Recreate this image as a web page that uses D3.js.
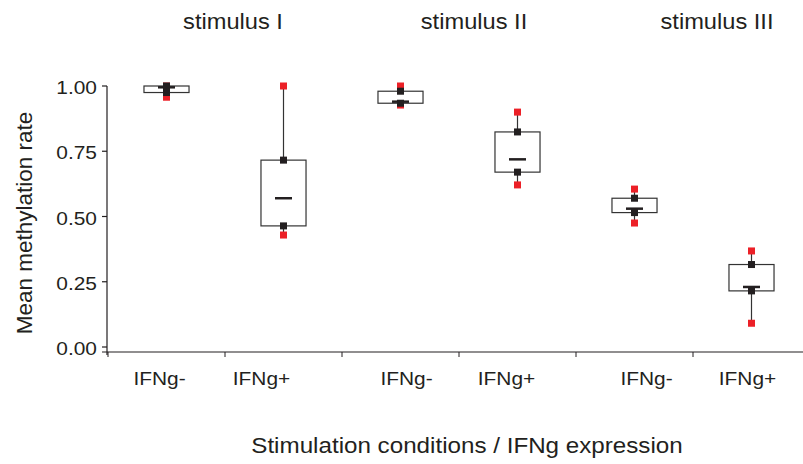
<!DOCTYPE html>
<html>
<head>
<meta charset="utf-8">
<script src="https://cdn.jsdelivr.net/npm/d3@7"></script>
<style>
  html, body { margin: 0; padding: 0; background: #fff; }
  svg text { font-family: "Liberation Sans", Arial, Helvetica, sans-serif; fill: #231f20; }
</style>
</head>
<body>
<svg id="chart" width="803" height="464"></svg>
<script>
// Conditions (stimulus × IFNg expression)
const stimuli    = ["stimulus I", "stimulus II", "stimulus III"];
const categories = ["IFNg-", "IFNg+", "IFNg-", "IFNg+", "IFNg-", "IFNg+"];
const groupOf    = [0, 0, 1, 1, 2, 2];

// Five-number summaries of methylation rate per condition
const minVals    = [0.957, 0.429, 0.927, 0.621, 0.475, 0.091];
const q1Vals     = [0.975, 0.464, 0.934, 0.670, 0.515, 0.215];
const medianVals = [0.995, 0.570, 0.940, 0.719, 0.530, 0.230];
const q3Vals     = [1.000, 0.716, 0.980, 0.824, 0.570, 0.316];
const maxVals    = [1.000, 1.000, 1.000, 0.900, 0.605, 0.368];

const yTicks = [0, 0.25, 0.5, 0.75, 1.0];

const svg = d3.select("#chart");
const ink = "#231f20";
const red = "#ec2027";
const stretch = 1.1;   // horizontal widening of the lettering

// Scales
const x = d3.scaleBand().domain(d3.range(categories.length)).range([108, 810]).padding(0);
const y = d3.scaleLinear().domain([0, 1]).range([347, 86]);

const axisY = 352;      // baseline of the category axis
const boxW = x.bandwidth() * 0.385;
const sq = 7;           // marker square size

// Horizontal text helper with widened glyphs
function label(parent, px, py, str, size, anchor = "middle") {
  return parent.append("text")
    .attr("transform", `translate(${px},${py}) scale(${stretch},1)`)
    .attr("text-anchor", anchor)
    .attr("font-size", size)
    .text(str);
}

// Y axis
const gy = svg.append("g").attr("transform", "translate(107,0)");
gy.append("line").attr("x1", 0).attr("x2", 0).attr("y1", y(1)).attr("y2", axisY + 3)
  .attr("stroke", ink).attr("stroke-width", 1.2);
yTicks.forEach(t => {
  gy.append("line").attr("x1", -5).attr("x2", 0).attr("y1", y(t)).attr("y2", y(t))
    .attr("stroke", ink).attr("stroke-width", 1.2);
  label(gy, -10, y(t) + 8, d3.format(".2f")(t), 19, "end");
});

// X axis: baseline with boundary ticks between conditions
const gx = svg.append("g");
gx.append("line").attr("x1", 102).attr("x2", 803).attr("y1", axisY).attr("y2", axisY)
  .attr("stroke", ink).attr("stroke-width", 1.2);
gx.selectAll("line.tk").data(d3.range(categories.length)).join("line")
  .attr("class", "tk")
  .attr("x1", d => x(d)).attr("x2", d => x(d))
  .attr("y1", axisY).attr("y2", axisY + 5)
  .attr("stroke", ink).attr("stroke-width", 1);

// Category labels (slightly nudged for legibility)
const labelNudge = [-7, -22, 6, -11, 12, -4];
categories.forEach((c, i) => {
  label(gx, x(i) + x.bandwidth() / 2 + labelNudge[i], 385, c, 19);
});

// Stimulus headings above each pair
const headNudge = [8, 15, 24];
stimuli.forEach((s, g) => {
  label(svg, x(g * 2 + 1) + headNudge[g], 29, s, 21.5);
});

// Axis titles
svg.append("text")
  .attr("transform", `translate(32,${(y(1) + axisY) / 2 + 4}) rotate(-90)`)
  .attr("text-anchor", "middle")
  .attr("font-size", 22.5)
  .text("Mean methylation rate");

label(svg, 467, 453, "Stimulation conditions / IFNg expression", 22);

// Box plots
const rows = categories.map((c, i) => ({
  i, min: minVals[i], q1: q1Vals[i], med: medianVals[i], q3: q3Vals[i], max: maxVals[i]
}));
const cx = d => x(d.i) + x.bandwidth() / 2;

const gb = svg.append("g");
const boxes = gb.selectAll("g.box").data(rows).join("g").attr("class", "box");

// whiskers
boxes.append("line")
  .attr("x1", cx).attr("x2", cx)
  .attr("y1", d => y(d.max)).attr("y2", d => y(d.q3))
  .attr("stroke", "#333").attr("stroke-width", 1.2);
boxes.append("line")
  .attr("x1", cx).attr("x2", cx)
  .attr("y1", d => y(d.q1)).attr("y2", d => y(d.min))
  .attr("stroke", "#333").attr("stroke-width", 1.2);

// interquartile box
boxes.append("rect")
  .attr("x", d => cx(d) - boxW / 2)
  .attr("width", boxW)
  .attr("y", d => y(d.q3))
  .attr("height", d => y(d.q1) - y(d.q3))
  .attr("fill", "#fff")
  .attr("stroke", "#333").attr("stroke-width", 1.2);

// median bar
boxes.append("line")
  .attr("x1", d => cx(d) - 8.5).attr("x2", d => cx(d) + 8.5)
  .attr("y1", d => y(d.med)).attr("y2", d => y(d.med))
  .attr("stroke", ink).attr("stroke-width", 2.5);

// min / max markers (red)
["min", "max"].forEach(k => {
  boxes.append("rect")
    .attr("x", d => cx(d) - sq / 2).attr("y", d => y(d[k]) - sq / 2)
    .attr("width", sq).attr("height", sq)
    .attr("fill", red);
});
// quartile markers (black)
["q1", "q3"].forEach(k => {
  boxes.append("rect")
    .attr("x", d => cx(d) - sq / 2).attr("y", d => y(d[k]) - sq / 2)
    .attr("width", sq).attr("height", sq)
    .attr("fill", ink);
});
</script>
</body>
</html>
